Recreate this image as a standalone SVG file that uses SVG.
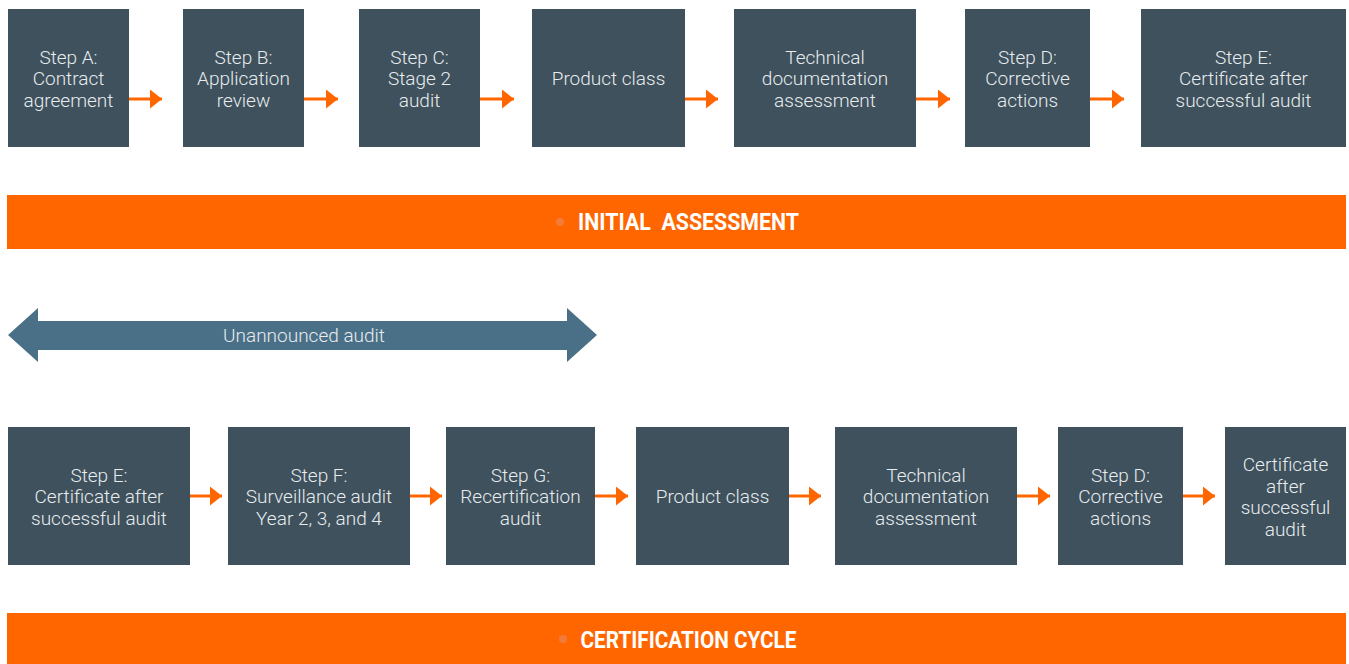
<svg xmlns="http://www.w3.org/2000/svg" width="1349" height="664" viewBox="0 0 1349 664">
<style>
.box{fill:#3E515D}
.t{font-family:Roboto,"Liberation Sans",sans-serif;font-weight:300;font-size:19px;fill:#E8ECEE;text-anchor:middle}
.ban{fill:#FF6600}
.bt{font-family:Roboto,"Liberation Sans",sans-serif;font-weight:700;font-size:23px;fill:#FFFFFF;text-anchor:middle}
.dot{fill:#F47A3C}
.c line{stroke:#FF6600;stroke-width:3}
</style>
<defs>
<marker id="ah" markerWidth="12" markerHeight="19" refX="12" refY="9.5" orient="auto" markerUnits="userSpaceOnUse">
<path d="M0,0 L12,9.5 L0,19 Z" fill="#FF6600"/>
</marker>
</defs>
<rect width="1349" height="664" fill="#FFFFFF"/>

<g id="n1"><rect class="box" x="8" y="9" width="121" height="138"/><text class="t" x="68.5" y="63.5">Step A:</text><text class="t" x="68.5" y="85">Contract</text><text class="t" x="68.5" y="106.5">agreement</text></g>
<g id="n2"><rect class="box" x="183" y="9" width="121" height="138"/><text class="t" x="243.5" y="63.5">Step B:</text><text class="t" x="243.5" y="85">Application</text><text class="t" x="243.5" y="106.5">review</text></g>
<g id="n3"><rect class="box" x="359" y="9" width="121" height="138"/><text class="t" x="419.5" y="63.5">Step C:</text><text class="t" x="419.5" y="85">Stage 2</text><text class="t" x="419.5" y="106.5">audit</text></g>
<g id="n4"><rect class="box" x="532" y="9" width="153" height="138"/><text class="t" x="608.5" y="85">Product class</text></g>
<g id="n5"><rect class="box" x="734" y="9" width="182" height="138"/><text class="t" x="825" y="63.5">Technical</text><text class="t" x="825" y="85">documentation</text><text class="t" x="825" y="106.5">assessment</text></g>
<g id="n6"><rect class="box" x="965" y="9" width="125" height="138"/><text class="t" x="1027.5" y="63.5">Step D:</text><text class="t" x="1027.5" y="85">Corrective</text><text class="t" x="1027.5" y="106.5">actions</text></g>
<g id="n7"><rect class="box" x="1141" y="9" width="205" height="138"/><text class="t" x="1243.5" y="63.5">Step E:</text><text class="t" x="1243.5" y="85">Certificate after</text><text class="t" x="1243.5" y="106.5">successful audit</text></g>

<g id="banner1"><rect class="ban" x="7" y="195" width="1339" height="54"/><circle class="dot" cx="560" cy="222" r="4"/><text class="bt" x="688.5" y="230" textLength="221" lengthAdjust="spacingAndGlyphs" xml:space="preserve">INITIAL  ASSESSMENT</text></g>

<g id="unannounced"><path d="M8,335 L38,308 L38,321 L567,321 L567,308 L597,335 L567,362 L567,350 L38,350 L38,362 Z" fill="#4A7088"/><text class="t" x="304" y="342" font-size="18.5">Unannounced audit</text></g>

<g id="m1"><rect class="box" x="8" y="427" width="182" height="138"/><text class="t" x="99" y="481.5">Step E:</text><text class="t" x="99" y="503">Certificate after</text><text class="t" x="99" y="524.5">successful audit</text></g>
<g id="m2"><rect class="box" x="228" y="427" width="182" height="138"/><text class="t" x="319" y="481.5">Step F:</text><text class="t" x="319" y="503">Surveillance audit</text><text class="t" x="319" y="524.5">Year 2, 3, and 4</text></g>
<g id="m3"><rect class="box" x="446" y="427" width="149" height="138"/><text class="t" x="520.5" y="481.5">Step G:</text><text class="t" x="520.5" y="503">Recertification</text><text class="t" x="520.5" y="524.5">audit</text></g>
<g id="m4"><rect class="box" x="636" y="427" width="153" height="138"/><text class="t" x="712.5" y="503">Product class</text></g>
<g id="m5"><rect class="box" x="835" y="427" width="182" height="138"/><text class="t" x="926" y="481.5">Technical</text><text class="t" x="926" y="503">documentation</text><text class="t" x="926" y="524.5">assessment</text></g>
<g id="m6"><rect class="box" x="1058" y="427" width="125" height="138"/><text class="t" x="1120.5" y="481.5">Step D:</text><text class="t" x="1120.5" y="503">Corrective</text><text class="t" x="1120.5" y="524.5">actions</text></g>
<g id="m7"><rect class="box" x="1225" y="427" width="121" height="138"/><text class="t" x="1285.5" y="471">Certificate</text><text class="t" x="1285.5" y="492.5">after</text><text class="t" x="1285.5" y="514">successful</text><text class="t" x="1285.5" y="535.5">audit</text></g>

<g id="banner2"><rect class="ban" x="7" y="613" width="1339" height="51"/><circle class="dot" cx="563" cy="639" r="4"/><text class="bt" x="688.5" y="647.5" textLength="216" lengthAdjust="spacingAndGlyphs">CERTIFICATION CYCLE</text></g>

<g id="connectors" class="c">
<line x1="129" y1="99" x2="162" y2="99" marker-end="url(#ah)"/>
<line x1="304" y1="99" x2="338" y2="99" marker-end="url(#ah)"/>
<line x1="480" y1="99" x2="514" y2="99" marker-end="url(#ah)"/>
<line x1="685" y1="99" x2="718" y2="99" marker-end="url(#ah)"/>
<line x1="916" y1="99" x2="950" y2="99" marker-end="url(#ah)"/>
<line x1="1090" y1="99" x2="1124" y2="99" marker-end="url(#ah)"/>
<line x1="190" y1="496" x2="222" y2="496" marker-end="url(#ah)"/>
<line x1="410" y1="496" x2="442" y2="496" marker-end="url(#ah)"/>
<line x1="595" y1="496" x2="628" y2="496" marker-end="url(#ah)"/>
<line x1="789" y1="496" x2="821" y2="496" marker-end="url(#ah)"/>
<line x1="1017" y1="496" x2="1050" y2="496" marker-end="url(#ah)"/>
<line x1="1183" y1="496" x2="1215" y2="496" marker-end="url(#ah)"/>
</g>
</svg>
